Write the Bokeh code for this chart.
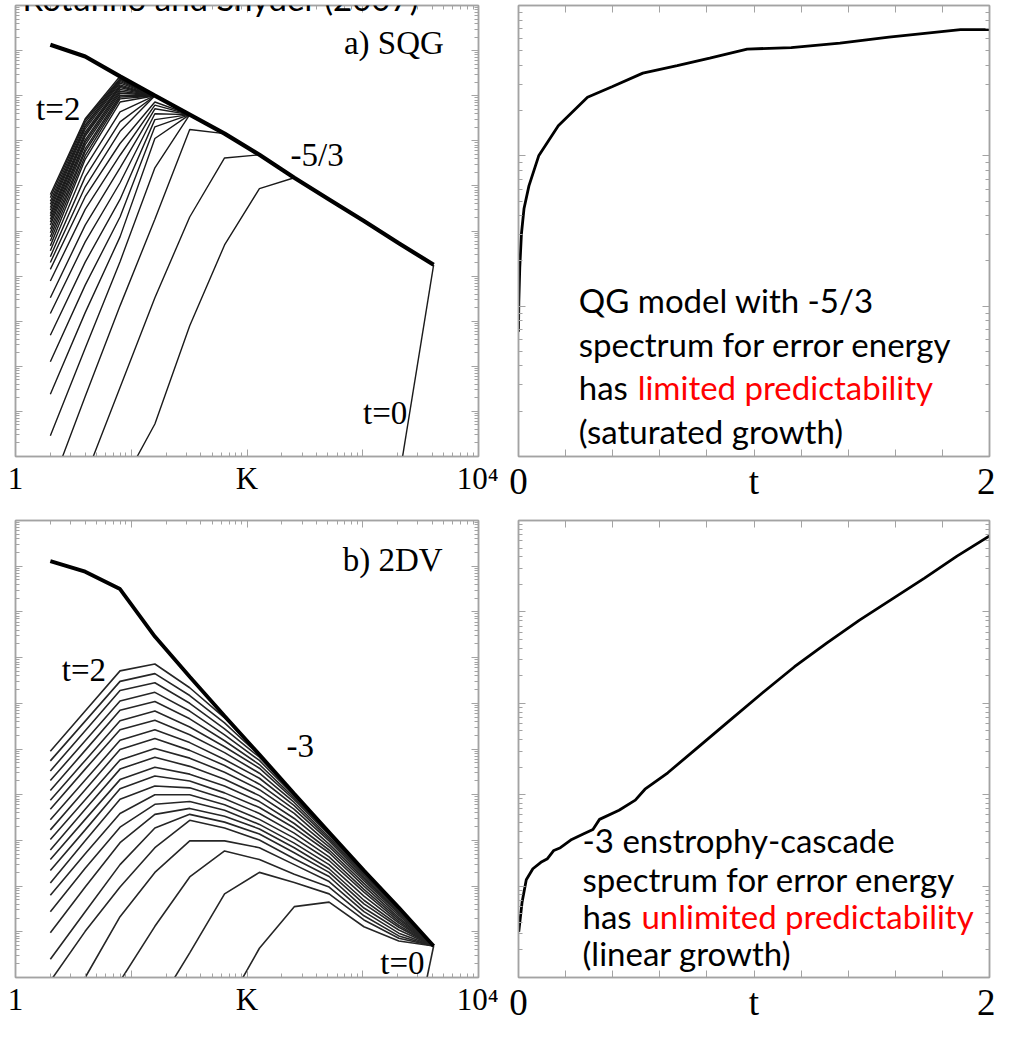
import numpy as np
from bokeh.plotting import figure
from bokeh.layouts import gridplot
from bokeh.models import (Range1d, LogAxis, LinearAxis, FixedTicker,
                          CustomJSTickFormatter, Label)
from bokeh.embed import file_html
from bokeh.resources import INLINE

N = None

# spectral bands K = 2 ... 4096
wavenumber = [2, 4, 8, 16, 32, 64, 128, 256, 512, 1024, 2048, 4096]

# a) SQG, log10 of energy: saturated (-5/3) spectrum and error spectra, t = 0 ... 2
sqg_saturated = [-0.87, -1.13, -1.57, -2.00, -2.42, -2.84, -3.31, -3.82, -4.30, -4.78, -5.27, -5.75]
sqg_error = [
    [N, N, N, N, N, N, N, N, N, N, -10.52, -5.75],
    [N, N, -10.70, -9.28, -7.10, -5.31, -4.06, -3.82],
    [N, -10.46, -8.47, -6.48, -4.69, -3.38, -3.31],
    [-10.72, -8.67, -6.66, -4.74, -2.75, -2.84],
    [-9.54, -7.60, -5.68, -3.60, -2.42],
    [-8.62, -6.81, -5.13, -2.95, -2.42],
    [-7.90, -6.20, -4.69, -2.69, -2.42],
    [-7.31, -5.69, -4.30, -2.53, -2.42],
    [-6.83, -5.24, -3.93, -2.40, -2.42],
    [-6.48, -4.87, -3.60, -2.29, -2.42],
    [-6.11, -4.52, -3.32, -2.21, -2.42],
    [-5.85, -4.24, -3.06, -2.14, -2.42],
    [-5.70, -4.02, -2.79, -2.00],
    [-5.57, -3.80, -2.58, -2.00],
    [-5.44, -3.59, -2.36, -2.00],
    [-5.33, -3.41, -2.14, -2.00],
    [-5.22, -3.33, -2.07, -2.00],
    [-5.13, -3.24, -2.03, -2.00],
    [-5.04, -3.18, -1.99, -2.00],
    [-4.96, -3.09, -1.94, -2.00],
    [-4.87, -3.03, -1.90, -2.00],
    [-4.80, -2.98, -1.86, -2.00],
    [-4.74, -2.90, -1.82, -2.00],
    [-4.67, -2.86, -1.79, -2.00],
    [-4.61, -2.81, -1.76, -2.00],
    [-4.54, -2.74, -1.72, -2.00],
    [-4.48, -2.69, -1.69, -2.00],
    [-4.41, -2.65, -1.66, -2.00],
    [-4.34, -2.59, -1.64, -2.00],
    [-4.26, -2.54, -1.62, -2.00],
    [-4.19, -2.51, -1.57],
]

# b) 2DV, log10 of energy: saturated (-3) spectrum and error spectra, t = 0 ... 2
dv_saturated = [-0.89, -1.12, -1.50, -2.54, -3.42, -4.28, -5.12, -5.98, -6.82, -7.66, -8.47, -9.31]
dv_error = [
    [N, N, N, N, N, N, N, N, N, N, -12.96, -9.31],
    [N, N, N, N, -12.32, -10.71, -9.36, -8.45, -8.35, -8.89, -9.20, -9.31],
    [N, N, N, -10.71, -9.46, -8.17, -7.70, -7.92, -8.17, -8.74, -9.14, -9.31],
    [N, N, -10.08, -8.88, -7.80, -7.23, -7.42, -7.74, -8.02, -8.65, -9.09, -9.31],
    [-11.46, -10.00, -8.67, -7.70, -7.01, -7.01, -7.16, -7.53, -7.90, -8.56, -9.03, -9.31],
    [-10.08, -8.99, -8.02, -7.16, -6.56, -6.73, -6.99, -7.40, -7.79, -8.48, -8.96, -9.31],
    [-9.60, -8.56, -7.53, -6.73, -6.43, -6.60, -6.86, -7.27, -7.70, -8.39, -8.90, -9.31],
    [-9.02, -8.02, -7.05, -6.43, -6.30, -6.47, -6.75, -7.16, -7.62, -8.31, -8.86, -9.31],
    [-8.56, -7.61, -6.71, -6.21, -6.15, -6.34, -6.65, -7.06, -7.53, -8.22, -8.81, -9.31],
    [-8.20, -7.29, -6.41, -6.00, -6.00, -6.22, -6.54, -6.95, -7.44, -8.13, -8.77, -9.31],
    [-7.93, -7.01, -6.10, -5.81, -5.85, -6.09, -6.41, -6.84, -7.36, -8.07, -8.73, -9.31],
    [-7.66, -6.77, -5.87, -5.59, -5.70, -5.96, -6.28, -6.73, -7.27, -8.00, -8.69, -9.31],
    [-7.42, -6.54, -5.67, -5.40, -5.55, -5.81, -6.15, -6.63, -7.21, -7.94, -8.64, -9.31],
    [-7.21, -6.32, -5.44, -5.18, -5.38, -5.66, -6.02, -6.52, -7.14, -7.88, -8.60, -9.31],
    [-6.98, -6.11, -5.24, -4.99, -5.20, -5.51, -5.89, -6.41, -7.08, -7.83, -8.58, -9.31],
    [-6.77, -5.89, -5.01, -4.77, -5.03, -5.36, -5.77, -6.32, -7.01, -7.79, -8.56, -9.31],
    [-6.55, -5.68, -4.81, -4.58, -4.86, -5.23, -5.64, -6.24, -6.97, -7.75, -8.53, -9.31],
    [-6.32, -5.44, -4.58, -4.37, -4.69, -5.08, -5.53, -6.17, -6.93, -7.72, -8.51, -9.31],
    [-6.12, -5.25, -4.38, -4.17, -4.52, -4.95, -5.42, -6.11, -6.88, -7.70, -8.49, -9.31],
    [-5.91, -5.03, -4.15, -3.96, -4.34, -4.82, -5.34, -6.07, -6.86, -7.68, -8.49, -9.31],
    [-5.69, -4.82, -3.95, -3.76, -4.17, -4.69, -5.25, -6.02, -6.84, -7.66, -8.47, -9.31],
    [-5.48, -4.60, -3.72, -3.55, -4.00, -4.56, -5.18, -6.00, -6.82, -7.66, -8.47, -9.31],
    [-5.26, -4.39, -3.52, -3.35, -3.83, -4.43, -5.14, -5.98, -6.82, -7.66, -8.47, -9.31],
    [-5.05, -4.17, -3.29, -3.14, -3.66, -4.32, -5.12, -5.98, -6.82, -7.66, -8.47, -9.31],
]

# error energy growth with time, log10
sqg_time = [0.0, 0.0014, 0.0055, 0.0124, 0.0235, 0.0443, 0.0858, 0.169, 0.293, 0.397,
            0.528, 0.674, 0.812, 0.971, 1.158, 1.365, 1.573, 1.877, 2.0]
sqg_growth = [-2.17, -1.97, -1.74, -1.52, -1.35, -1.20, -1.00, -0.80, -0.61, -0.54,
              -0.45, -0.40, -0.35, -0.29, -0.28, -0.25, -0.21, -0.16, -0.16]
dv_time = [0.001, 0.015, 0.033, 0.061, 0.095, 0.123, 0.150, 0.178, 0.226, 0.275, 0.316,
           0.344, 0.427, 0.496, 0.537, 0.634, 0.758, 0.896, 1.034, 1.172, 1.310, 1.448,
           1.586, 1.724, 1.862, 2.0]
dv_growth = [-4.50, -4.18, -3.93, -3.81, -3.74, -3.70, -3.61, -3.58, -3.49, -3.43, -3.38,
             -3.27, -3.17, -3.06, -2.94, -2.76, -2.49, -2.19, -1.89, -1.60, -1.34, -1.09,
             -0.86, -0.63, -0.39, -0.17]

time_ticks = [0.0, 0.2, 0.4, 0.6, 0.8, 1.0, 1.2, 1.4, 1.6, 1.8, 2.0]

FRAME = "#a3a3a3"
SERIF = "Liberation Serif"
SANS = "Lato"


def energy(row):
    return [np.nan if v is None else 10.0 ** v for v in row]


def decade_ticker(lo, hi):
    major = [10.0 ** e for e in range(lo, hi + 1)]
    minor = [m * 10.0 ** e for e in range(lo, hi) for m in range(2, 10)]
    return FixedTicker(ticks=major, minor_ticks=minor)


def panel(width, height, border, x_log, y_lo, label_code, label_size):
    left, right, top, bottom = border
    p = figure(width=width, height=height,
               x_axis_type="log" if x_log else "linear", y_axis_type="log",
               x_range=Range1d(1, 1e4) if x_log else Range1d(0, 2),
               y_range=Range1d(10.0 ** y_lo, 1),
               output_backend="svg", toolbar_location=None,
               min_border_left=left, min_border_right=right,
               min_border_top=top, min_border_bottom=bottom)
    p.add_layout(LogAxis() if x_log else LinearAxis(), "above")
    p.add_layout(LogAxis(), "right")
    for ax in p.xaxis:
        ax.ticker = decade_ticker(0, 4) if x_log else FixedTicker(ticks=time_ticks, minor_ticks=[])
    for ax in p.yaxis:
        ax.ticker = decade_ticker(y_lo, 0)
    for ax in p.axis:
        ax.axis_line_color = FRAME
        ax.axis_line_width = 1.5
        ax.major_tick_line_color = FRAME
        ax.minor_tick_line_color = FRAME
        ax.major_tick_in = 7
        ax.major_tick_out = 0
        ax.minor_tick_in = 4
        ax.minor_tick_out = 0
        ax.major_label_text_font_size = "1px"
        ax.major_label_text_color = None
        ax.major_label_standoff = 0
    # bottom axis carries the end labels and the axis name (K or t) at mid tick
    bx = p.below[0]
    bx.formatter = CustomJSTickFormatter(code=label_code)
    bx.major_label_text_font = SERIF
    bx.major_label_text_font_size = label_size
    bx.major_label_text_color = "black"
    bx.major_label_standoff = 4
    p.xgrid.visible = False
    p.ygrid.visible = False
    p.outline_line_color = FRAME
    p.outline_line_width = 1.5
    return p


def note(p, x, y, text, font, size, color="black", align="center",
         baseline="middle", y_offset=0):
    p.add_layout(Label(x=x, y=y, text=text, text_font=font, text_font_size=size,
                       text_color=color, text_align=align, text_baseline=baseline,
                       y_offset=y_offset))


K_CODE = ("if (tick == 1) { return '1'; } if (tick == 100) { return 'K'; } "
          "if (tick == 10000) { return '10\\u2074'; } return '';")
T_CODE = ("if (Math.abs(tick) < 1e-6) { return '0'; } "
          "if (Math.abs(tick - 1) < 1e-6) { return 't'; } "
          "if (Math.abs(tick - 2) < 1e-6) { return '2'; } return '';")

# a) SQG spectra
pa = panel(498, 512, (10, 20, 5, 56), True, -10, K_CODE, "31px")
for row in sqg_error:
    pa.line(wavenumber[:len(row)], energy(row), line_color="#1a1a1a", line_width=1.4)
pa.line(wavenumber, energy(sqg_saturated), line_color="black", line_width=4.2)
note(pa, 1858, 0.148, "a) SQG", SERIF, "33px")
note(pa, 2.34, 5.1e-3, "t=2", SERIF, "33px")
note(pa, 403, 4.8e-4, "-5/3", SERIF, "33px")
note(pa, 1560, 9.1e-10, "t=0", SERIF, "33px")
note(pa, 1.15, 1, "Rotunno and Snyder (2007)", SANS, "33px", align="left",
     baseline="alphabetic", y_offset=8)

# QG growth of error energy
pc = panel(497, 512, (20, 3, 5, 50), False, -3, T_CODE, "37px")
pc.line(sqg_time, energy(sqg_growth), line_color="black", line_width=2.8)
note(pc, 0.256, 10 ** -1.96, "QG model with -5/3", SANS, "33px", align="left", baseline="alphabetic")
note(pc, 0.256, 10 ** -2.25, "spectrum for error energy", SANS, "33px", align="left", baseline="alphabetic")
note(pc, 0.256, 10 ** -2.54, "has", SANS, "33px", align="left", baseline="alphabetic")
note(pc, 0.506, 10 ** -2.54, "limited predictability", SANS, "33px", color="#ff0000",
     align="left", baseline="alphabetic")
note(pc, 0.256, 10 ** -2.83, "(saturated growth)", SANS, "33px", align="left", baseline="alphabetic")

# b) 2DV spectra
pb = panel(498, 526, (15, 16, 7, 61), True, -10, K_CODE, "31px")
for row in dv_error:
    pb.line(wavenumber[:len(row)], energy(row), line_color="#262626", line_width=1.6)
pb.line(wavenumber, energy(dv_saturated), line_color="black", line_width=3.8)
note(pb, 1815, 0.138, "b) 2DV", SERIF, "33px")
note(pb, 3.9, 5.4e-4, "t=2", SERIF, "33px")
note(pb, 288, 1.19e-5, "-3", SERIF, "33px")
note(pb, 2203, 2.1e-10, "t=0", SERIF, "33px")

# 2DV growth of error energy
pd = panel(497, 526, (16, 6, 8, 56), False, -5, T_CODE, "37px")
pd.line(dv_time, energy(dv_growth), line_color="black", line_width=2.8)
note(pd, 0.272, 10 ** -3.50, "-3 enstrophy-cascade", SANS, "33px", align="left", baseline="alphabetic")
note(pd, 0.272, 10 ** -3.92, "spectrum for error energy", SANS, "33px", align="left", baseline="alphabetic")
note(pd, 0.272, 10 ** -4.33, "has", SANS, "33px", align="left", baseline="alphabetic")
note(pd, 0.522, 10 ** -4.33, "unlimited predictability", SANS, "33px", color="#ff0000",
     align="left", baseline="alphabetic")
note(pd, 0.272, 10 ** -4.73, "(linear growth)", SANS, "33px", align="left", baseline="alphabetic")

grid = gridplot([[pa, pc], [pb, pd]], toolbar_location=None)

open("out.html", "w").write(file_html(grid, INLINE))
